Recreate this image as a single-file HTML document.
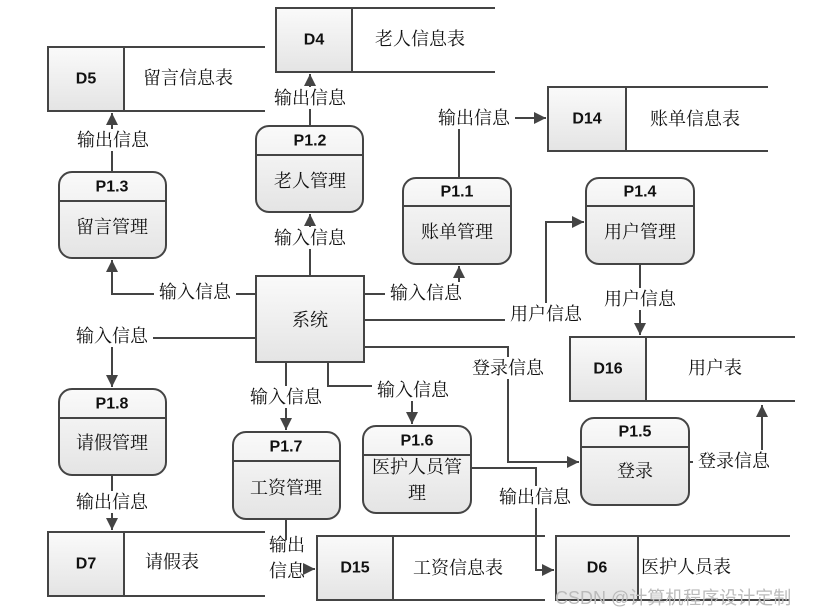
<!DOCTYPE html>
<html><head><meta charset="utf-8"><style>
html,body{margin:0;padding:0;background:#fff;}
svg{display:block;}
text{font-family:"Liberation Serif","Noto Serif CJK SC","Noto Sans CJK SC",serif;font-size:18px;fill:#111;}
.id{font-family:"Liberation Sans","Noto Sans CJK SC",sans-serif;font-weight:bold;font-size:16px;}
.lbl{text-anchor:middle;dominant-baseline:central;}
</style></head><body>
<svg width="819" height="616" viewBox="0 0 819 616" xmlns="http://www.w3.org/2000/svg">
<defs>
<linearGradient id="g" x1="0" y1="0" x2="0" y2="1"><stop offset="0" stop-color="#fafafa"/><stop offset="1" stop-color="#e4e4e4"/></linearGradient>
<marker id="a" viewBox="0 0 10 10" refX="10" refY="5" markerWidth="6" markerHeight="6" orient="auto"><path d="M0,0L10,5L0,10z" fill="#444"/></marker>
</defs>
<g stroke="#444" stroke-width="2" fill="none">
<path d="M112,172V113" marker-end="url(#a)"/>
<path d="M310,126V74" marker-end="url(#a)"/>
<path d="M310,276V214" marker-end="url(#a)"/>
<path d="M256,294H112V260" marker-end="url(#a)"/>
<path d="M364,294H459V266" marker-end="url(#a)"/>
<path d="M459,178V118H546" marker-end="url(#a)"/>
<path d="M364,320H546V222H584" marker-end="url(#a)"/>
<path d="M640,264V335" marker-end="url(#a)"/>
<path d="M256,338H112V387" marker-end="url(#a)"/>
<path d="M364,347H508V462H579" marker-end="url(#a)"/>
<path d="M689,462H762V405" marker-end="url(#a)"/>
<path d="M286,362V430" marker-end="url(#a)"/>
<path d="M328,362V386H412V424" marker-end="url(#a)"/>
<path d="M471,468H536V570H554" marker-end="url(#a)"/>
<path d="M286,519V540"/>
<path d="M305,569H315" marker-end="url(#a)"/>
<path d="M112,475V530" marker-end="url(#a)"/>
</g>
<g stroke="#444" stroke-width="2">
<rect x="276" y="8" width="76" height="64" fill="url(#g)"/><path d="M352,8H495M352,72H495" fill="none"/>
<rect x="48" y="47" width="76" height="64" fill="url(#g)"/><path d="M124,47H265M124,111H265" fill="none"/>
<rect x="548" y="87" width="78" height="64" fill="url(#g)"/><path d="M626,87H768M626,151H768" fill="none"/>
<rect x="570" y="337" width="76" height="64" fill="url(#g)"/><path d="M646,337H795M646,401H795" fill="none"/>
<rect x="48" y="532" width="76" height="64" fill="url(#g)"/><path d="M124,532H265M124,596H265" fill="none"/>
<rect x="317" y="536" width="76" height="64" fill="url(#g)"/><path d="M393,536H545M393,600H545" fill="none"/>
<rect x="556" y="536" width="82" height="64" fill="url(#g)"/><path d="M638,536H790M638,600H790" fill="none"/>
<rect x="256" y="276" width="108" height="86" fill="url(#g)"/>
<rect x="256" y="126" width="107" height="86" rx="13" fill="url(#g)"/><path d="M256,155H363"/>
<rect x="59" y="172" width="107" height="86" rx="13" fill="url(#g)"/><path d="M59,201H166"/>
<rect x="403" y="178" width="108" height="86" rx="13" fill="url(#g)"/><path d="M403,206H511"/>
<rect x="586" y="178" width="108" height="86" rx="13" fill="url(#g)"/><path d="M586,206H694"/>
<rect x="59" y="389" width="107" height="86" rx="13" fill="url(#g)"/><path d="M59,418H166"/>
<rect x="233" y="432" width="107" height="87" rx="13" fill="url(#g)"/><path d="M233,461H340"/>
<rect x="363" y="426" width="108" height="87" rx="13" fill="url(#g)"/><path d="M363,455H471"/>
<rect x="581" y="418" width="108" height="87" rx="13" fill="url(#g)"/><path d="M581,447H689"/>
</g>
<g class="lbl">
<text class="id lbl" x="314" y="40">D4</text><text class="lbl" x="420" y="39">老人信息表</text>
<text class="id lbl" x="86" y="79">D5</text><text class="lbl" x="188" y="78">留言信息表</text>
<text class="id lbl" x="587" y="119">D14</text><text class="lbl" x="695" y="119">账单信息表</text>
<text class="id lbl" x="608" y="369">D16</text><text class="lbl" x="715" y="368">用户表</text>
<text class="id lbl" x="86" y="564">D7</text><text class="lbl" x="172" y="562">请假表</text>
<text class="id lbl" x="355" y="568">D15</text><text class="lbl" x="458" y="568">工资信息表</text>
<text class="id lbl" x="597" y="568">D6</text><text class="lbl" x="686" y="567">医护人员表</text>
<text class="lbl" x="310" y="320">系统</text>
<text class="id lbl" x="310" y="141">P1.2</text><text class="lbl" x="310" y="181">老人管理</text>
<text class="id lbl" x="112" y="187">P1.3</text><text class="lbl" x="112" y="227">留言管理</text>
<text class="id lbl" x="457" y="192">P1.1</text><text class="lbl" x="457" y="232">账单管理</text>
<text class="id lbl" x="640" y="192">P1.4</text><text class="lbl" x="640" y="232">用户管理</text>
<text class="id lbl" x="112" y="404">P1.8</text><text class="lbl" x="112" y="443">请假管理</text>
<text class="id lbl" x="286" y="447">P1.7</text><text class="lbl" x="286" y="488">工资管理</text>
<text class="id lbl" x="417" y="441">P1.6</text><text class="lbl" x="417" y="467">医护人员管</text><text class="lbl" x="417" y="493">理</text>
<text class="id lbl" x="635" y="432">P1.5</text><text class="lbl" x="635" y="471">登录</text>
</g>
<g>
<rect x="72" y="129" width="82" height="22" fill="#fff"/><text class="lbl" x="113" y="140">输出信息</text>
<rect x="269" y="87" width="82" height="22" fill="#fff"/><text class="lbl" x="310" y="98">输出信息</text>
<rect x="269" y="227" width="82" height="22" fill="#fff"/><text class="lbl" x="310" y="238">输入信息</text>
<rect x="154" y="282" width="82" height="22" fill="#fff"/><text class="lbl" x="195" y="292">输入信息</text>
<rect x="385" y="282" width="82" height="22" fill="#fff"/><text class="lbl" x="426" y="293">输入信息</text>
<rect x="433" y="107" width="82" height="22" fill="#fff"/><text class="lbl" x="474" y="118">输出信息</text>
<rect x="505" y="303" width="82" height="22" fill="#fff"/><text class="lbl" x="546" y="314">用户信息</text>
<rect x="599" y="288" width="82" height="22" fill="#fff"/><text class="lbl" x="640" y="299">用户信息</text>
<rect x="71" y="325" width="82" height="22" fill="#fff"/><text class="lbl" x="112" y="336">输入信息</text>
<rect x="467" y="357" width="82" height="22" fill="#fff"/><text class="lbl" x="508" y="368">登录信息</text>
<rect x="693" y="450" width="82" height="22" fill="#fff"/><text class="lbl" x="734" y="461">登录信息</text>
<rect x="245" y="386" width="82" height="22" fill="#fff"/><text class="lbl" x="286" y="397">输入信息</text>
<rect x="372" y="379" width="82" height="22" fill="#fff"/><text class="lbl" x="413" y="390">输入信息</text>
<rect x="494" y="486" width="82" height="22" fill="#fff"/><text class="lbl" x="535" y="497">输出信息</text>
<rect x="71" y="491" width="82" height="22" fill="#fff"/><text class="lbl" x="112" y="502">输出信息</text>
<text class="lbl" x="287" y="545">输出</text><text class="lbl" x="287" y="571">信息</text>
</g>
<text x="555" y="604" style="font-family:'Liberation Sans','Noto Sans CJK SC',sans-serif;font-size:18px;fill:#bbb;">CSDN @计算机程序设计定制</text>
</svg>
</body></html>
